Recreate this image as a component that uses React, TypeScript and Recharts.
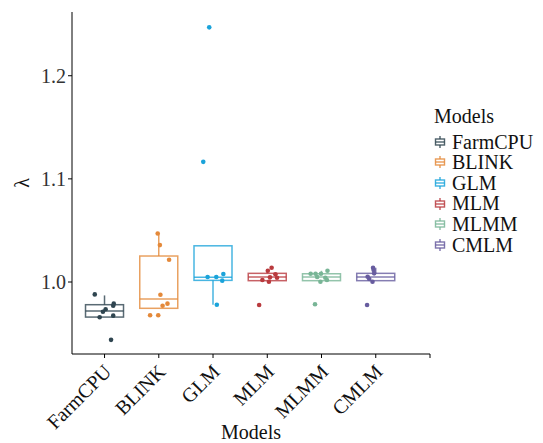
import React from "react";
import { ComposedChart, Bar, Scatter, XAxis, YAxis } from "recharts";

const models = ["FarmCPU", "BLINK", "GLM", "MLM", "MLMM", "CMLM"];
const colors = ["#2F4550", "#E4893A", "#1AA3DA", "#B93A3E", "#78B596", "#675C9F"];

// box stats: lower whisker, q1, median, q3, upper whisker
const whiskerLo = [0.966, 0.9745, 0.978, 1.0013, 1.0013, 1.0013];
const q1 = [0.966, 0.9745, 1.0016, 1.0013, 1.0013, 1.0013];
const median = [0.972, 0.9835, 1.0045, 1.0048, 1.0048, 1.0048];
const q3 = [0.978, 1.0252, 1.0351, 1.0084, 1.008, 1.0084];
const whiskerHi = [0.987, 1.0471, 1.0351, 1.012, 1.0109, 1.0138];

// jittered points: offset from category centre, lambda value
const farmcpuPts = [[-0.18, 0.988], [0.17, 0.979], [0.16, 0.977], [0.02, 0.9736], [-0.03, 0.9712], [-0.09, 0.9658], [0.16, 0.9674], [0.12, 0.9439]];
const blinkPts = [[-0.02, 1.0471], [0.02, 1.0358], [0.19, 1.0216], [0.03, 0.9877], [0.16, 0.979], [0.07, 0.977], [-0.16, 0.9678], [-0.01, 0.9678]];
const glmPts = [[-0.1, 1.0048], [0.06, 1.0048], [0.19, 1.0077], [0.17, 1.0013], [0.07, 0.978], [-0.07, 1.2469], [-0.18, 1.1165]];
const mlmPts = [[0.08, 1.0138], [0.01, 1.0109], [0.15, 1.0075], [0.05, 1.0045], [0.18, 1.0042], [-0.09, 1.0019], [0.03, 1.0003], [-0.15, 0.9777]];
const mlmmPts = [[-0.2, 1.008], [-0.11, 1.008], [0.11, 1.0109], [-0.01, 1.008], [-0.08, 1.0048], [0.07, 1.0042], [0.1, 1.0019], [-0.02, 1.0003], [-0.12, 0.9784]];
const cmlmPts = [[-0.05, 1.0138], [-0.04, 1.0116], [-0.03, 1.0084], [-0.15, 1.0051], [-0.12, 1.0029], [-0.06, 1.0003], [-0.16, 0.9777]];
const allPts = [farmcpuPts, blinkPts, glmPts, mlmPts, mlmmPts, cmlmPts];

const yTicks = [1.0, 1.1, 1.2];
const xTicks = [1, 2, 3, 4, 5, 6, 7];

const boxData = models.map((m, i) => ({
  x: i + 1,
  name: m,
  range: [whiskerLo[i], whiskerHi[i]],
  q1: q1[i],
  med: median[i],
  q3: q3[i],
  color: colors[i],
}));

const FONT = "'Liberation Serif', serif";
const BOX_HALF = 19;

function BoxShape(props: any) {
  const { x, y, width, height, payload } = props;
  const [lo, hi] = payload.range;
  const pix = (v: number) => y + ((hi - v) / (hi - lo)) * height;
  const cx = x + width / 2;
  const c = payload.color;
  const yq1 = pix(payload.q1);
  const yq3 = pix(payload.q3);
  const ym = pix(payload.med);
  return (
    <g stroke={c} strokeOpacity={0.8} strokeWidth={1.5} fill="none">
      <line x1={cx} x2={cx} y1={y} y2={yq3} />
      <line x1={cx} x2={cx} y1={yq1} y2={y + height} />
      <rect x={cx - BOX_HALF} y={yq3} width={BOX_HALF * 2} height={yq1 - yq3} />
      <line x1={cx - BOX_HALF} x2={cx + BOX_HALF} y1={ym} y2={ym} />
    </g>
  );
}

function XTick(props: any) {
  const { x, y, payload } = props;
  const label = models[payload.value - 1] || "";
  const ax = x + 8;
  const ay = y + 13;
  return (
    <text
      x={ax}
      y={ay}
      textAnchor="end"
      fill="#111"
      style={{ fontFamily: FONT, fontSize: 20 }}
      transform={`rotate(-45 ${ax} ${ay})`}
    >
      {label}
    </text>
  );
}

function LambdaLabel(props: any) {
  const { viewBox } = props;
  const cx = 22;
  const cy = viewBox.y + viewBox.height / 2;
  return (
    <text
      x={cx}
      y={cy}
      textAnchor="middle"
      dominantBaseline="central"
      fill="#111"
      style={{ fontFamily: FONT, fontSize: 20 }}
      transform={`rotate(-90 ${cx} ${cy})`}
    >
      λ
    </text>
  );
}

function LegendGlyph({ color }: { color: string }) {
  return (
    <svg width={12} height={14} style={{ marginRight: 6 }}>
      <g stroke={color} strokeOpacity={0.85} strokeWidth={1.4} fill="none">
        <line x1={6} x2={6} y1={1} y2={4} />
        <line x1={6} x2={6} y1={10} y2={13} />
        <rect x={1.5} y={4} width={9} height={6} />
        <line x1={1.5} x2={10.5} y1={7} y2={7} />
      </g>
    </svg>
  );
}

export default function App() {
  return (
    <div style={{ position: "absolute", left: 0, top: 0, width: 543, height: 443, background: "#fff", fontFamily: FONT }}>
      <ComposedChart
        width={543}
        height={443}
        data={boxData}
        margin={{ top: 12, right: 113, bottom: 0, left: 0 }}
        style={{ fontFamily: FONT }}
      >
        <XAxis
          type="number"
          dataKey="x"
          domain={[0.4, 7]}
          ticks={xTicks}
          interval={0}
          allowDataOverflow
          height={89}
          stroke="#000"
          tickSize={4}
          tick={<XTick />}
          label={{ value: "Models", position: "insideBottom", offset: 4, fontSize: 20, fill: "#111", style: { fontFamily: FONT } }}
        />
        <YAxis
          type="number"
          domain={[0.9302, 1.2618]}
          ticks={yTicks}
          allowDataOverflow
          width={72}
          stroke="#000"
          tickSize={4}
          tickFormatter={(v: number) => v.toFixed(1)}
          tick={{ fontSize: 20, fill: "#333", style: { fontFamily: FONT } }}
          label={<LambdaLabel />}
        />
        <Bar dataKey="range" barSize={38} shape={<BoxShape />} isAnimationActive={false} />
        {allPts.map((pts, i) => (
          <Scatter
            key={models[i]}
            name={models[i]}
            data={pts.map(([dx, v]) => ({ x: i + 1 + dx, y: v }))}
            dataKey="y"
            fill={colors[i]}
            shape={(p: any) => <circle cx={p.cx} cy={p.cy} r={2.3} fill={colors[i]} />}
            isAnimationActive={false}
          />
        ))}
      </ComposedChart>
      <div style={{ position: "absolute", left: 434, top: 106, fontFamily: FONT, fontSize: 20, color: "#111", lineHeight: "20.6px" }}>
        <div style={{ marginBottom: 5 }}>Models</div>
        {models.map((m, i) => (
          <div key={m} style={{ display: "flex", alignItems: "center", height: 20.6 }}>
            <LegendGlyph color={colors[i]} />
            {m}
          </div>
        ))}
      </div>
    </div>
  );
}
